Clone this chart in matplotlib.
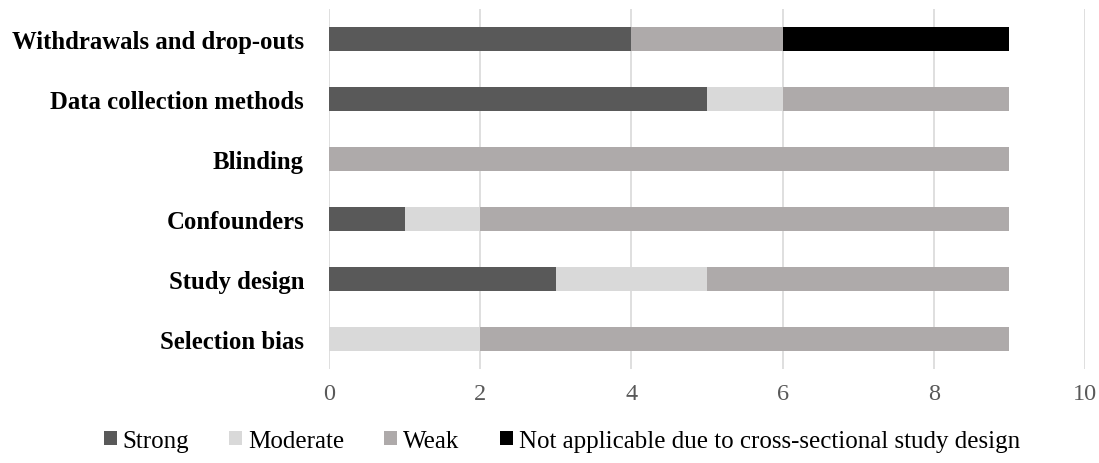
import matplotlib.pyplot as plt
import numpy as np

plt.rcParams["font.family"] = ["Liberation Serif", "DejaVu Serif"]

categories = ["Selection bias", "Study design", "Confounders", "Blinding",
              "Data collection methods", "Withdrawals and drop-outs"]
strong = [0, 3, 1, 0, 5, 4]
moderate = [2, 2, 1, 0, 1, 0]
weak = [7, 4, 7, 9, 3, 2]
not_applicable = [0, 0, 0, 0, 0, 3]

series = [
    ("Strong", strong, "#595959"),
    ("Moderate", moderate, "#d9d9d9"),
    ("Weak", weak, "#aeaaaa"),
    ("Not applicable due to cross-sectional study design", not_applicable, "#000000"),
]

fig = plt.figure(figsize=(10.99, 4.64), dpi=100)
ax = fig.add_axes([0.2994, 0.2026, 0.6879, 0.7754])

y = np.arange(len(categories))
left = np.zeros(len(categories))
for name, vals, color in series:
    vals = np.array(vals, dtype=float)
    ax.barh(y, vals, left=left, height=0.4, color=color, label=name, zorder=3)
    left += vals

ax.set_xlim(0, 10)
ax.set_ylim(-0.5, len(categories) - 0.5)
ax.set_xticks(range(0, 11, 2))
ax.set_yticks(y)
ax.set_yticklabels(categories, fontsize=17.8, fontweight="bold")
ax.tick_params(axis="x", labelsize=17.5, length=0, pad=10, labelcolor="#595959")
ax.tick_params(axis="y", length=0, pad=18)
ax.grid(axis="x", color="#d9d9d9", linewidth=1.2, zorder=0)
for s in ax.spines.values():
    s.set_visible(False)

handles, labels = ax.get_legend_handles_labels()
fig.legend(handles, labels,
           loc="center", bbox_to_anchor=(0.511, 0.048), ncol=4, frameon=False,
           fontsize=18, handlelength=0.52, handleheight=0.52, handletextpad=0.24,
           columnspacing=1.6, borderpad=0, borderaxespad=0)

fig.savefig("out.png", dpi=100)
